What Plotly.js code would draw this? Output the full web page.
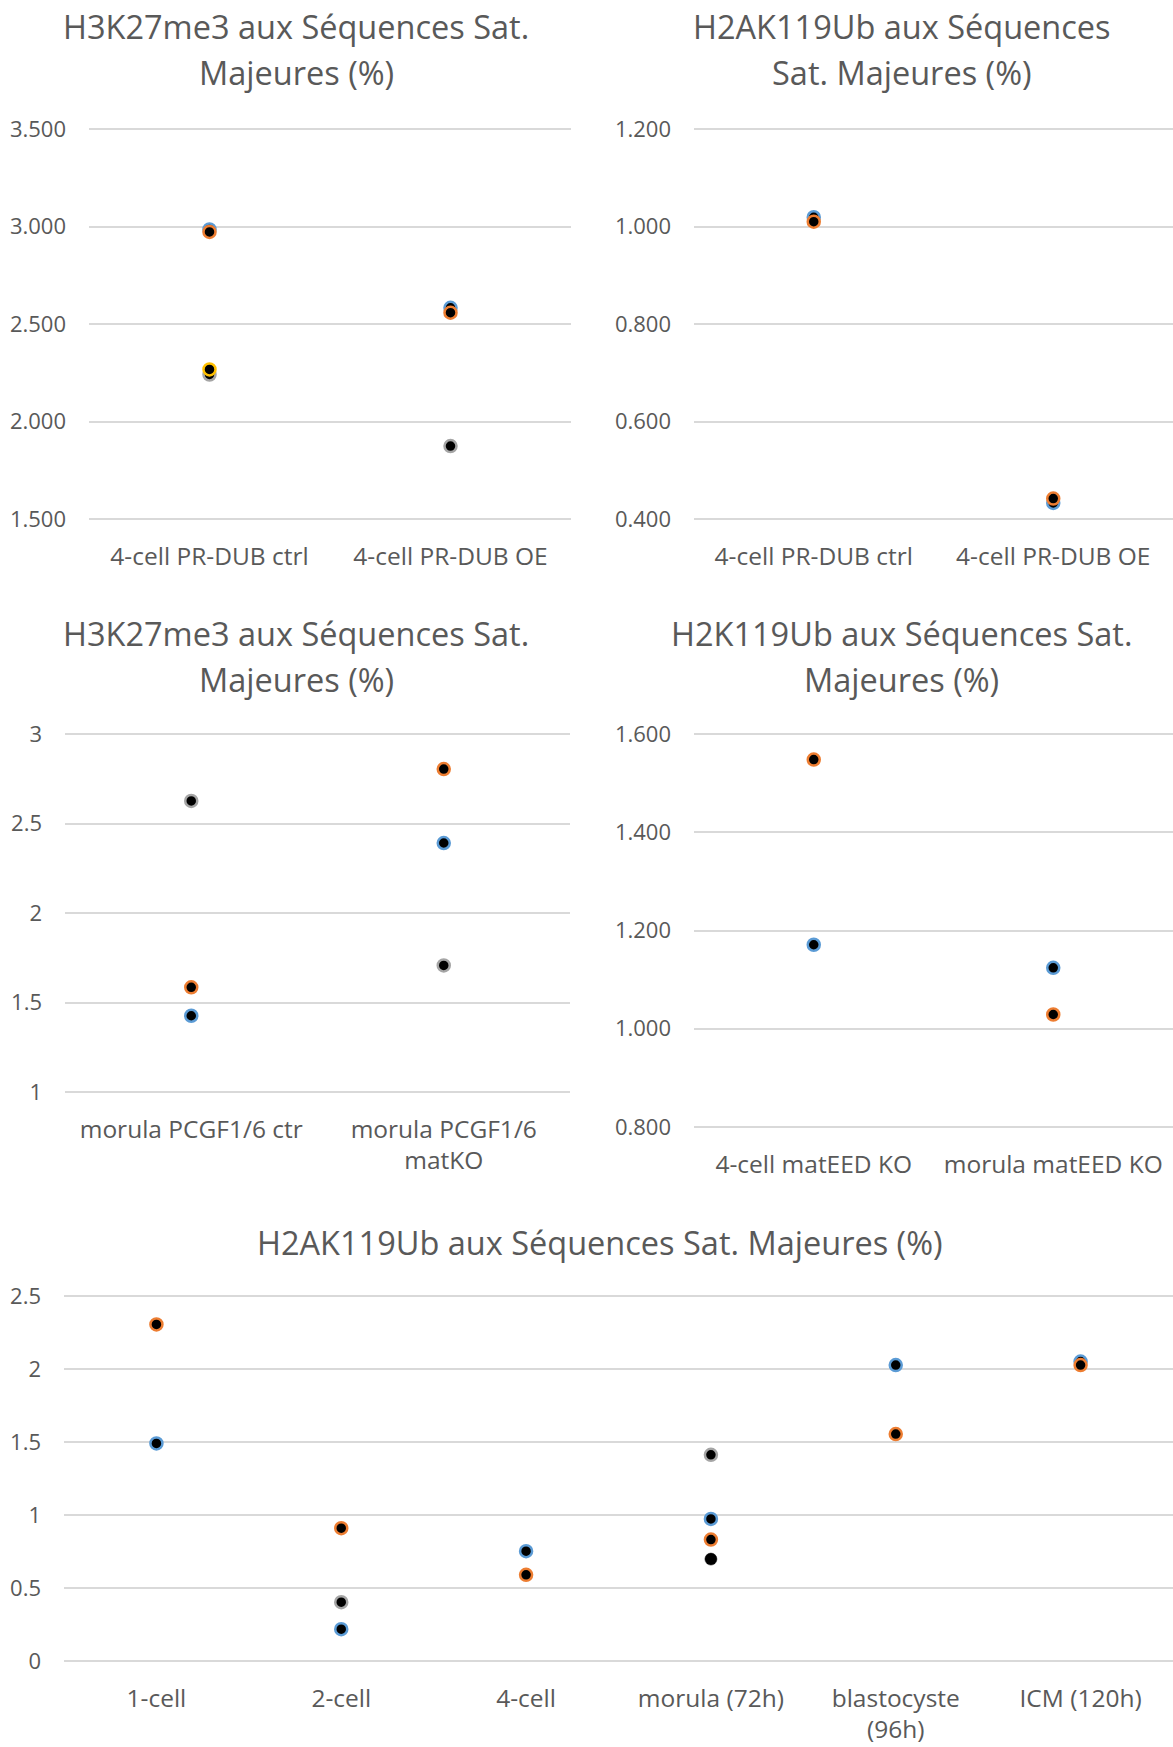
<!DOCTYPE html>
<html>
<head>
<meta charset="utf-8">
<script src="https://cdn.plot.ly/plotly-3.0.1.min.js"></script>
<style>html,body{margin:0;padding:0;background:#fff;}#chart{width:1173px;height:1747px;}</style>
</head>
<body>
<div id="chart"></div>
<script>
// ---------- DATA ----------
// Panel 1 : H3K27me3, PR-DUB
const cats1 = ['4-cell PR-DUB ctrl', '4-cell PR-DUB OE'];
const p1Blue   = [2.985, 2.583];
const p1Orange = [2.972, 2.558];
const p1Gray   = [2.241, 1.874];
const p1Gold   = [2.267, null];
const p1Ticks  = [1.5, 2.0, 2.5, 3.0, 3.5];

// Panel 2 : H2AK119Ub, PR-DUB
const cats2 = ['4-cell PR-DUB ctrl', '4-cell PR-DUB OE'];
const p2Blue   = [1.019, 0.433];
const p2Orange = [1.010, 0.442];
const p2Ticks  = [0.4, 0.6, 0.8, 1.0, 1.2];

// Panel 3 : H3K27me3, PCGF1/6
const cats3 = ['morula PCGF1/6 ctr', 'morula PCGF1/6<br>matKO'];
const p3Blue   = [1.426, 2.391];
const p3Orange = [1.585, 2.804];
const p3Gray   = [2.626, 1.707];
const p3Ticks  = [1, 1.5, 2, 2.5, 3];

// Panel 4 : H2K119Ub, matEED
const cats4 = ['4-cell matEED KO', 'morula matEED KO'];
const p4Blue   = [1.171, 1.124];
const p4Orange = [1.548, 1.029];
const p4Ticks  = [0.8, 1.0, 1.2, 1.4, 1.6];

// Panel 5 : H2AK119Ub, développement
const cats5 = ['1-cell', '2-cell', '4-cell', 'morula (72h)', 'blastocyste<br>(96h)', 'ICM (120h)'];
const p5Blue   = [1.490, 0.218, 0.752, 0.973, 2.027, 2.051];
const p5Orange = [2.305, 0.910, 0.590, 0.832, 1.554, 2.027];
const p5Gray   = [null, 0.403, null, 1.412, null, null];
const p5Black  = [null, null, null, 0.698, null, null];
const p5Ticks  = [0, 0.5, 1, 1.5, 2, 2.5];

const titles = [
  ['H3K27me3 aux Séquences Sat.', 'Majeures (%)'],
  ['H2AK119Ub aux Séquences', 'Sat. Majeures (%)'],
  ['H3K27me3 aux Séquences Sat.', 'Majeures (%)'],
  ['H2K119Ub aux Séquences Sat.', 'Majeures (%)'],
  ['H2AK119Ub aux Séquences Sat. Majeures (%)']
];

// ---------- STYLE ----------
const W = 1173, H = 1747;
const FONT = 'Open Sans, Noto Sans, sans-serif';
const TXT = '#595959';
const GRID = '#D9D9D9';
const COL = {blue: '#5B9BD5', orange: '#ED7D31', gray: '#A5A5A5', gold: '#FFC000', black: '#000000'};

function px2fx(p) { return p / W; }
function px2fy(p) { return 1 - p / H; }

function tr(x, y, color, xa, ya, name) {
  const isBlack = color === '#000000';
  return {
    type: 'scatter', mode: 'markers', x: x, y: y, name: name,
    xaxis: xa, yaxis: ya, cliponaxis: false,
    marker: {size: 12, color: '#000000', line: {color: color, width: isBlack ? 0.5 : 2.5}},
    hoverinfo: 'x+y'
  };
}

const data = [
  tr(cats1, p1Blue, COL.blue, 'x', 'y', 'série 1'),
  tr(cats1, p1Orange, COL.orange, 'x', 'y', 'série 2'),
  tr(cats1, p1Gray, COL.gray, 'x', 'y', 'série 3'),
  tr(cats1, p1Gold, COL.gold, 'x', 'y', 'série 4'),
  tr(cats2, p2Blue, COL.blue, 'x2', 'y2', 'série 1'),
  tr(cats2, p2Orange, COL.orange, 'x2', 'y2', 'série 2'),
  tr(cats3, p3Blue, COL.blue, 'x3', 'y3', 'série 1'),
  tr(cats3, p3Orange, COL.orange, 'x3', 'y3', 'série 2'),
  tr(cats3, p3Gray, COL.gray, 'x3', 'y3', 'série 3'),
  tr(cats4, p4Blue, COL.blue, 'x4', 'y4', 'série 1'),
  tr(cats4, p4Orange, COL.orange, 'x4', 'y4', 'série 2'),
  tr(cats5, p5Blue, COL.blue, 'x5', 'y5', 'série 1'),
  tr(cats5, p5Orange, COL.orange, 'x5', 'y5', 'série 2'),
  tr(cats5, p5Gray, COL.gray, 'x5', 'y5', 'série 3'),
  tr(cats5, p5Black, COL.black, 'x5', 'y5', 'série 4')
];

function xax(cats, x0, x1, anchor) {
  return {
    type: 'category', categoryarray: cats, categoryorder: 'array',
    range: [-0.5, cats.length - 0.5], domain: [px2fx(x0), px2fx(x1)],
    anchor: anchor, showgrid: false, zeroline: false, showline: false,
    ticks: '', ticklabelstandoff: 17, fixedrange: true,
    tickfont: {family: FONT, size: 24.5, color: TXT}
  };
}
// y0/y1: pixel rows of top / bottom gridlines. The axis is padded by PAD px on each
// side so Plotly does not drop the gridlines that sit on the range ends.
const PAD = 3;
function yax(ticks, fmt, y0, y1, anchor) {
  const lo = ticks[0], hi = ticks[ticks.length - 1];
  const eps = (hi - lo) * PAD / (y1 - y0);
  return {
    range: [lo - eps, hi + eps], domain: [px2fy(y1 + PAD), px2fy(y0 - PAD)],
    anchor: anchor, tickmode: 'array', tickvals: ticks, tickformat: fmt,
    showgrid: true, gridcolor: GRID, gridwidth: 1.8, zeroline: false, showline: false,
    ticks: '', ticklabelstandoff: 22, fixedrange: true,
    tickfont: {family: FONT, size: 22, color: TXT}
  };
}

const titlePos = [
  {x: 296, y: [27, 72]},
  {x: 902, y: [27, 72]},
  {x: 296, y: [634, 679]},
  {x: 902, y: [634, 679]},
  {x: 600, y: [1242]}
];
const annotations = [];
titles.forEach((lines, i) => {
  lines.forEach((t, j) => {
    annotations.push({
      text: t, xref: 'paper', yref: 'paper',
      x: px2fx(titlePos[i].x), y: px2fy(titlePos[i].y[j]),
      xanchor: 'center', yanchor: 'middle', showarrow: false,
      font: {family: FONT, size: 32.5, color: TXT}
    });
  });
});

const layout = {
  width: W, height: H,
  margin: {l: 0, r: 0, t: 0, b: 0},
  paper_bgcolor: '#FFFFFF', plot_bgcolor: '#FFFFFF',
  showlegend: false,
  xaxis:  xax(cats1, 89, 571, 'y'),
  yaxis:  yax(p1Ticks, '.3f', 129, 519, 'x'),
  xaxis2: xax(cats2, 694, 1173, 'y2'),
  yaxis2: yax(p2Ticks, '.3f', 129, 519, 'x2'),
  xaxis3: xax(cats3, 65, 570, 'y3'),
  yaxis3: yax(p3Ticks, '', 734, 1092, 'x3'),
  xaxis4: xax(cats4, 694, 1173, 'y4'),
  yaxis4: yax(p4Ticks, '.3f', 734, 1127, 'x4'),
  xaxis5: xax(cats5, 64, 1173, 'y5'),
  yaxis5: yax(p5Ticks, '', 1296, 1661, 'x5'),
  annotations: annotations
};

Plotly.newPlot('chart', data, layout, {displayModeBar: false});
</script>
</body>
</html>
